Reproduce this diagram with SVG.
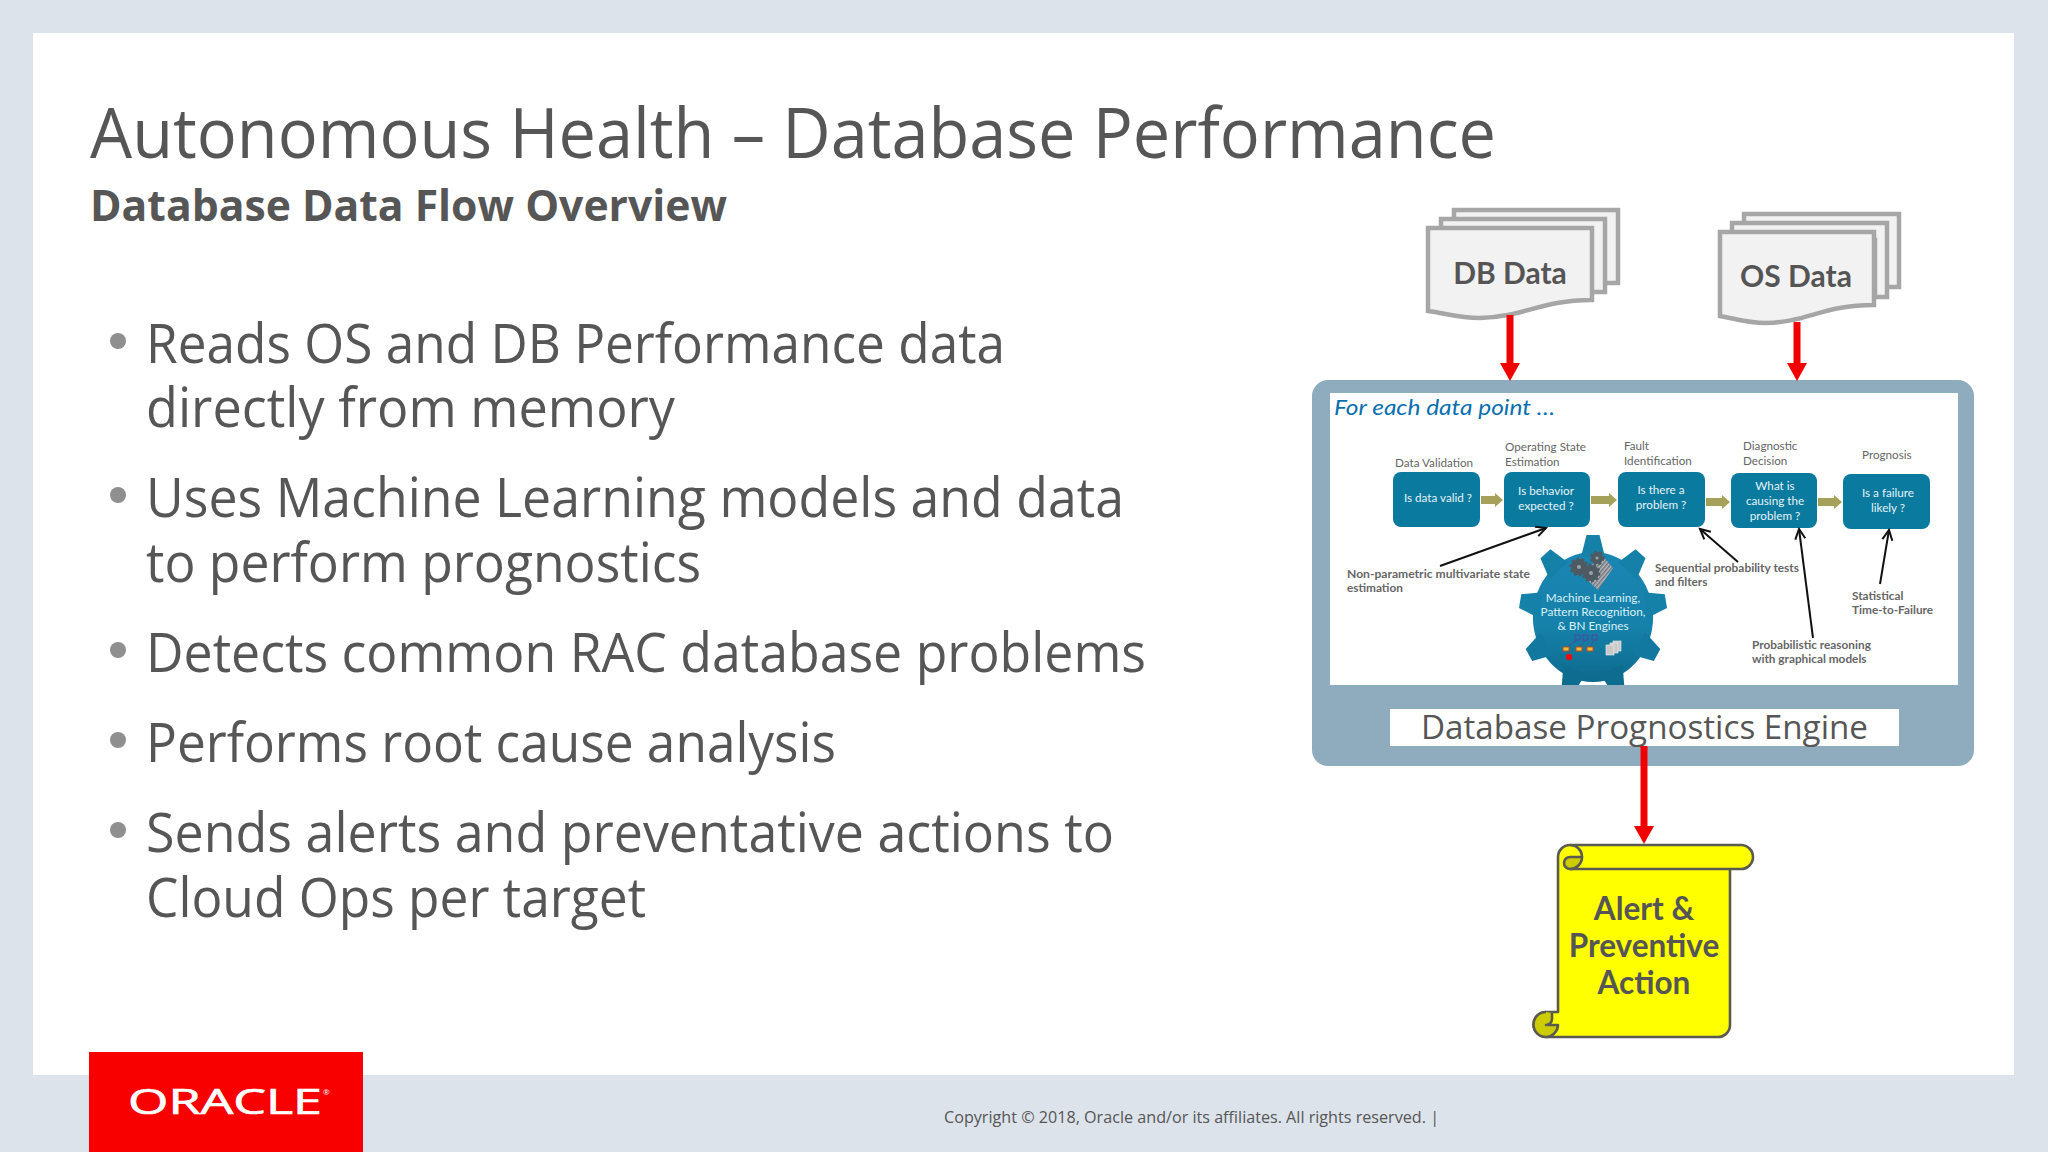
<svg xmlns="http://www.w3.org/2000/svg" width="2048" height="1152" viewBox="0 0 2048 1152">
<style>
text{font-family:"Open Sans","Noto Sans",sans-serif;fill:#565656}
.b{font-size:54px}
.lato{font-family:Lato,"Open Sans",sans-serif}
.lab{font-family:Lato,sans-serif;font-size:11.7px;fill:#666}
.bl{font-family:Lato,sans-serif;font-size:11.8px;font-weight:700;fill:#666}
.bx{font-family:Lato,sans-serif;font-size:11.7px;fill:#e4f3f8;text-anchor:middle}
.gt{font-family:Lato,sans-serif;font-size:11.8px;fill:#d8f0f8;text-anchor:middle}
.doc{fill:#f2f2f2;stroke:#a6a6a6;stroke-width:4.5}
.dt{font-family:Lato,sans-serif;font-size:30px;font-weight:700;text-anchor:middle;fill:#555}
.node{fill:#0a7a9e}
.dot{fill:#8f8f8f}
.red{stroke:#f00000;stroke-width:7;fill:none}
.redh{fill:#f00000}
.blk{stroke:#111;stroke-width:2;fill:none;marker-end:url(#ah)}
.ol{fill:#a5a15a}
.sc{stroke:#5a5a50;stroke-width:2.6;fill:#ffff00;stroke-linejoin:round}
.st{font-family:Lato,sans-serif;font-size:31.5px;font-weight:700;text-anchor:middle;fill:#555}
.cog{fill:#4e5a62;stroke:#4e5a62;stroke-width:3;stroke-dasharray:2.5 2.5}
</style>
<defs>
<marker id="ah" markerUnits="userSpaceOnUse" markerWidth="14" markerHeight="14" refX="11" refY="6" orient="auto"><path d="M1,1 L11,6 L1,11" fill="none" stroke="#111" stroke-width="2"/></marker>
<linearGradient id="gg" x1="0" y1="0" x2="0" y2="1"><stop offset="0" stop-color="#1a86b4"/><stop offset="0.6" stop-color="#1580a8"/><stop offset="1" stop-color="#0d6a8e"/></linearGradient>
<clipPath id="gc"><rect x="1500" y="520" width="200" height="165"/></clipPath>
<polygon id="tooth" points="-13,-58 -7,-80 7,-80 13,-58"/>
<pattern id="hatch" width="3" height="3" patternUnits="userSpaceOnUse" patternTransform="rotate(40)"><rect width="3" height="3" fill="#b4b8bc"/><rect width="1.4" height="3" fill="#6d7378"/></pattern>
</defs>
<rect width="2048" height="1152" fill="#dce3ea"/>
<rect x="33" y="33" width="1981" height="1042" fill="#fff"/>

<text x="90" y="158" font-size="70" textLength="1406" lengthAdjust="spacingAndGlyphs">Autonomous Health – Database Performance</text>
<text x="90" y="221" font-size="43" font-weight="700" textLength="637" lengthAdjust="spacingAndGlyphs">Database Data Flow Overview</text>

<g id="bullets">
<circle class="dot" cx="118" cy="341" r="8"/><circle class="dot" cx="118" cy="495" r="8"/><circle class="dot" cx="118" cy="650" r="8"/><circle class="dot" cx="118" cy="740" r="8"/><circle class="dot" cx="118" cy="830" r="8"/>
<text class="b" x="146" y="363" textLength="859" lengthAdjust="spacingAndGlyphs">Reads OS and DB Performance data</text>
<text class="b" x="146" y="427" textLength="529" lengthAdjust="spacingAndGlyphs">directly from memory</text>
<text class="b" x="146" y="517" textLength="978" lengthAdjust="spacingAndGlyphs">Uses Machine Learning models and data</text>
<text class="b" x="146" y="582" textLength="555" lengthAdjust="spacingAndGlyphs">to perform prognostics</text>
<text class="b" x="146" y="672" textLength="1000" lengthAdjust="spacingAndGlyphs">Detects common RAC database problems</text>
<text class="b" x="146" y="762" textLength="690" lengthAdjust="spacingAndGlyphs">Performs root cause analysis</text>
<text class="b" x="146" y="852" textLength="968" lengthAdjust="spacingAndGlyphs">Sends alerts and preventative actions to</text>
<text class="b" x="146" y="917" textLength="500" lengthAdjust="spacingAndGlyphs">Cloud Ops per target</text>
</g>

<g id="db-data">
<path class="doc" d="M1454,210H1618V283H1590V240H1454Z"/>
<path class="doc" d="M1441,219H1605V292H1590V240H1441Z"/>
<path class="doc" d="M1428,228H1592V300C1540,300 1525,317 1480,318C1458,318 1445,313 1428,311Z"/>
<text class="dt" x="1510" y="284">DB Data</text>
</g>
<g id="os-data">
<path class="doc" d="M1744,214H1899V287H1880V240H1744Z"/>
<path class="doc" d="M1732,223H1887V297H1875V240H1732Z"/>
<path class="doc" d="M1720,232H1874V305C1823,305 1808,322 1766,323C1746,323 1733,318 1720,316Z"/>
<text class="dt" x="1796" y="287">OS Data</text>
</g>

<g id="engine">
<rect x="1312" y="380" width="662" height="386" rx="16" fill="#8facbf"/>
<rect x="1330" y="393" width="628" height="292" fill="#fff"/>
<rect x="1390" y="709" width="509" height="37" fill="#fff"/>
<text x="1421" y="739" font-size="33" textLength="447" lengthAdjust="spacingAndGlyphs">Database Prognostics Engine</text>
<text x="1334" y="415" font-size="22" font-style="italic" style="fill:#0a6fb0" class="lato" textLength="221" lengthAdjust="spacingAndGlyphs">For each data point …</text>
</g>

<g id="gear">
<g clip-path="url(#gc)"><g transform="translate(1593,615) scale(0.925,1)" fill="url(#gg)">
<circle r="65" cx="0" cy="2"/>
<use href="#tooth" fill="#1580a8"/>
<use href="#tooth" fill="#1580a8" transform="rotate(40)"/>
<use href="#tooth" fill="#1580a8" transform="rotate(80)"/>
<use href="#tooth" fill="#1278a0" transform="rotate(120)"/>
<use href="#tooth" fill="#0e6c90" transform="rotate(160)"/>
<use href="#tooth" fill="#0e6c90" transform="rotate(200)"/>
<use href="#tooth" fill="#1278a0" transform="rotate(240)"/>
<use href="#tooth" fill="#1580a8" transform="rotate(280)"/>
<use href="#tooth" fill="#1580a8" transform="rotate(320)"/>
</g></g>
<path d="M1600,553L1613,568L1598,590L1584,577Z" fill="url(#hatch)"/>
<circle class="cog" cx="1579" cy="567" r="8"/><circle class="cog" cx="1597" cy="558" r="6"/><circle class="cog" cx="1591" cy="573" r="8"/>
<circle cx="1579" cy="567" r="2" fill="#9aa0a5"/><circle cx="1597" cy="558" r="1.6" fill="#9aa0a5"/><circle cx="1591" cy="573" r="2" fill="#9aa0a5"/>
<text class="gt" x="1593" y="602">Machine Learning,</text>
<text class="gt" x="1593" y="616">Pattern Recognition,</text>
<text class="gt" x="1593" y="630">&amp; BN Engines</text>
<g fill="none" stroke="#4a4aa0" stroke-width="1"><rect x="1575" y="635" width="5" height="5"/><rect x="1583" y="635" width="5" height="5"/><rect x="1592" y="635" width="5" height="5"/><path d="M1577,640L1567,647M1586,640L1579,647M1594,640L1590,647"/></g>
<g fill="#f5b93a" stroke="#b5501a" stroke-width="1"><rect x="1563" y="647" width="6" height="4"/><rect x="1576" y="647" width="6" height="4"/><rect x="1587" y="647" width="6" height="4"/></g>
<circle cx="1569" cy="657" r="3.2" fill="#e81010"/>
<g fill="#c8c8c8" stroke="#f0f0f0" stroke-width="0.6"><rect x="1613" y="641" width="8" height="10"/><rect x="1610" y="643" width="8" height="10"/><rect x="1606" y="645" width="8" height="10"/></g>
</g>

<g id="step-1"><rect class="node" x="1393" y="472" width="87" height="55" rx="8"/><text class="bx" x="1438" y="502">Is data valid ?</text><text class="lab" x="1395" y="467">Data Validation</text></g>
<g id="step-2"><rect class="node" x="1504" y="472" width="86" height="55" rx="8"/><text class="bx" x="1546" y="495">Is behavior</text><text class="bx" x="1546" y="510">expected ?</text><text class="lab" x="1505" y="451">Operating State</text><text class="lab" x="1505" y="466">Estimation</text></g>
<g id="step-3"><rect class="node" x="1618" y="472" width="87" height="55" rx="8"/><text class="bx" x="1661" y="494">Is there a</text><text class="bx" x="1661" y="509">problem ?</text><text class="lab" x="1624" y="450">Fault</text><text class="lab" x="1624" y="465">Identification</text></g>
<g id="step-4"><rect class="node" x="1731" y="473" width="86" height="55" rx="8"/><text class="bx" x="1775" y="490">What is</text><text class="bx" x="1775" y="505">causing the</text><text class="bx" x="1775" y="520">problem ?</text><text class="lab" x="1743" y="450">Diagnostic</text><text class="lab" x="1743" y="465">Decision</text></g>
<g id="step-5"><rect class="node" x="1843" y="474" width="87" height="55" rx="8"/><text class="bx" x="1888" y="497">Is a failure</text><text class="bx" x="1888" y="512">likely ?</text><text class="lab" x="1862" y="459">Prognosis</text></g>

<g id="connectors">
<path class="ol" d="M1481,496H1495V493L1503,500L1495,507V504H1481Z"/>
<path class="ol" d="M1591,496H1609V493L1617,500L1609,507V504H1591Z"/>
<path class="ol" d="M1706,498H1722V495L1730,502L1722,509V506H1706Z"/>
<path class="ol" d="M1818,498H1834V495L1842,502L1834,509V506H1818Z"/>
<path class="blk" d="M1440,566L1546,528"/>
<path class="blk" d="M1738,562L1700,529"/>
<path class="blk" d="M1813,638L1799,529"/>
<path class="blk" d="M1880,584L1889,530"/>
<path class="red" d="M1510,315V364"/><path class="redh" d="M1500,363H1520L1510,381Z"/>
<path class="red" d="M1797,322V364"/><path class="redh" d="M1787,363H1807L1797,381Z"/>
<path class="red" d="M1644,746V827"/><path class="redh" d="M1634,826H1654L1644,844Z"/>
</g>

<g id="notes">
<text class="bl" x="1347" y="578" textLength="183" lengthAdjust="spacingAndGlyphs">Non-parametric multivariate state</text>
<text class="bl" x="1347" y="592">estimation</text>
<text class="bl" x="1655" y="572" textLength="144" lengthAdjust="spacingAndGlyphs">Sequential probability tests</text>
<text class="bl" x="1655" y="586">and filters</text>
<text class="bl" x="1852" y="600">Statistical</text>
<text class="bl" x="1852" y="614">Time-to-Failure</text>
<text class="bl" x="1752" y="649">Probabilistic reasoning</text>
<text class="bl" x="1752" y="663">with graphical models</text>
</g>

<g id="alert">
<path class="sc" d="M1570,845H1741A12,12 0 0 1 1741,869H1730V1025A12,12 0 0 1 1718,1037H1546A12.5,12.5 0 0 1 1546,1012H1558V857A12,12 0 0 1 1570,845Z"/>
<path class="sc" style="fill:#cccc00" d="M1570,869A6,6 0 0 1 1570,857H1582A12,12 0 0 1 1570,869Z"/>
<path d="M1570,845A12,12 0 0 1 1582,857M1570,869H1730" fill="none" stroke="#5a5a50" stroke-width="2.6"/>
<path class="sc" style="fill:#cccc00" d="M1546,1012A12.5,12.5 0 0 0 1546,1037A12.5,12.5 0 0 0 1558,1025H1546A6,6 0 0 0 1552,1019V1013"/>
<text class="st" x="1644" y="920">Alert &amp;</text>
<text class="st" x="1644" y="957">Preventive</text>
<text class="st" x="1644" y="994">Action</text>
</g>

<g id="footer">
<rect x="89" y="1052" width="274" height="100" fill="#f80000"/>
<text x="128" y="1114" font-size="35" style="fill:#fff;stroke:#fff;stroke-width:0.7" textLength="194" lengthAdjust="spacingAndGlyphs">ORACLE</text>
<text x="323" y="1095" font-size="8" style="fill:#fff">®</text>
<text x="944" y="1123" font-size="16.5" textLength="495" lengthAdjust="spacingAndGlyphs">Copyright © 2018, Oracle and/or its affiliates. All rights reserved.  |</text>
</g>
</svg>
